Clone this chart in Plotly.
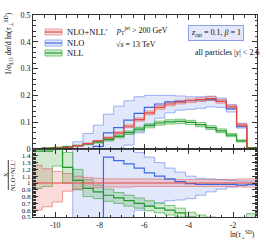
import plotly.graph_objects as go
from plotly.subplots import make_subplots

# bin edges in ln(tau)
edges = [-11.05, -10.59, -10.13, -9.67, -9.21, -8.75, -8.29, -7.83, -7.37, -6.91, -6.45,
         -5.99, -5.53, -5.07, -4.61, -4.14, -3.68, -3.22, -2.76, -2.30, -1.84, -1.38, -0.92]

# top panel
red_c = [0.001, 0.002, 0.003, 0.006, 0.012, 0.020, 0.030, 0.042, 0.060, 0.085, 0.110, 0.135, 0.155, 0.168, 0.175, 0.180, 0.184, 0.188, 0.178, 0.157, 0.089, 0.002]
red_lo = [0.000, 0.001, 0.002, 0.005, 0.011, 0.018, 0.028, 0.039, 0.056, 0.080, 0.104, 0.128, 0.148, 0.161, 0.168, 0.173, 0.177, 0.181, 0.171, 0.150, 0.084, 0.001]
red_hi = [0.002, 0.003, 0.004, 0.007, 0.013, 0.022, 0.032, 0.045, 0.064, 0.090, 0.116, 0.142, 0.162, 0.175, 0.182, 0.187, 0.191, 0.195, 0.185, 0.164, 0.094, 0.003]
blue_c = [0, 0, 0, 0, 0, 0, 0.010, 0.060, 0.080, 0.108, 0.133, 0.155, 0.168, 0.176, 0.178, 0.181, 0.183, 0.184, 0.178, 0.150, 0.083, 0.002]
blue_lo = [0, 0, 0, 0, 0, 0, 0, 0, 0, 0.015, 0.060, 0.090, 0.115, 0.135, 0.145, 0.148, 0.152, 0.157, 0.155, 0.138, 0.078, 0.0]
blue_hi = [0, 0, 0, 0, 0.027, 0.058, 0.089, 0.130, 0.160, 0.180, 0.195, 0.200, 0.200, 0.200, 0.198, 0.195, 0.195, 0.197, 0.190, 0.165, 0.096, 0.003]
green_c = [0.0015, 0.003, 0.005, 0.008, 0.013, 0.019, 0.026, 0.035, 0.047, 0.061, 0.074, 0.087, 0.097, 0.101, 0.103, 0.099, 0.091, 0.080, 0.068, 0.052, 0.030, 0.004]
green_lo = [0.001, 0.002, 0.004, 0.007, 0.011, 0.016, 0.022, 0.030, 0.041, 0.054, 0.067, 0.079, 0.089, 0.093, 0.095, 0.091, 0.083, 0.073, 0.061, 0.046, 0.026, 0.002]
green_hi = [0.002, 0.004, 0.007, 0.010, 0.015, 0.021, 0.029, 0.039, 0.052, 0.067, 0.081, 0.094, 0.104, 0.109, 0.111, 0.107, 0.099, 0.087, 0.075, 0.058, 0.034, 0.006]

# ratio panel (X / NLO+NLL')
r_red_c = [1.0] * 22
r_red_lo = [0.60, 0.65, 0.72, 0.88, 0.91, 0.92, 0.93, 0.94, 0.94, 0.94, 0.95, 0.95, 0.95, 0.95, 0.95, 0.95, 0.95, 0.95, 0.95, 0.95, 0.94, 0.94]
r_red_hi = [1.26, 1.21, 1.17, 1.14, 1.10, 1.08, 1.07, 1.06, 1.06, 1.06, 1.06, 1.06, 1.06, 1.05, 1.05, 1.05, 1.05, 1.05, 1.05, 1.05, 1.06, 1.06]
r_blue_c = [0, 0, 0, 0, 0, 0, 0.30, 1.38, 1.33, 1.28, 1.22, 1.15, 1.10, 1.06, 1.02, 0.99, 0.98, 0.98, 0.98, 0.98, 0.97, 0.98]
r_blue_lo = [0, 0, 0, 0, 0, 0, 0, 0, 0, 0, 0.60, 0.66, 0.71, 0.74, 0.75, 0.77, 0.82, 0.87, 0.91, 0.94, 0.96, 0.97]
r_blue_hi = [0, 0, 0, 0, 3, 3, 3, 3, 3, 3, 1.45, 1.38, 1.30, 1.22, 1.16, 1.10, 1.07, 1.06, 1.05, 1.04, 1.03, 1.03]
r_green_c = [1.47, 1.47, 1.70, 1.23, 1.04, 0.92, 0.87, 0.82, 0.78, 0.74, 0.70, 0.66, 0.63, 0.60, 0.56, 0.50, 0.47, 0.43, 0.38, 0.33, 0.30, 0.45]
r_green_lo = [0.92, 0.95, 1.25, 1.00, 0.90, 0.80, 0.77, 0.73, 0.70, 0.66, 0.63, 0.59, 0.56, 0.53, 0.50, 0.45, 0.42, 0.38, 0.33, 0.30, 0.25, 0.35]
r_green_hi = [2.00, 2.00, 2.00, 1.45, 1.20, 1.05, 0.97, 0.91, 0.86, 0.82, 0.78, 0.74, 0.70, 0.67, 0.63, 0.57, 0.53, 0.50, 0.46, 0.42, 0.40, 0.55]

x_ticks = [-10, -8, -6, -4, -2]
y_top_ticks = [0, 0.1, 0.2, 0.3, 0.4, 0.5]
y_bot_ticks = [0.5, 0.6, 0.7, 0.8, 0.9, 1.0, 1.1, 1.2, 1.3, 1.4]
legend_names = ["NLO+NLL′", "NLO", "NLL"]

RED = "#e5483f"
BLUE = "#3f67e4"
GREEN = "#1f9a2a"
RED_FILL = "rgba(232,110,110,0.25)"
BLUE_FILL = "rgba(125,150,235,0.22)"
GREEN_FILL = "rgba(70,170,70,0.25)"
RED_EDGE = "rgba(220,90,90,0.55)"
BLUE_EDGE = "rgba(110,140,240,0.65)"
GREEN_EDGE = "rgba(60,170,60,0.65)"

FONT = "Liberation Serif"

fig = make_subplots(rows=2, cols=1, shared_xaxes=True, vertical_spacing=0,
                    row_heights=[0.6634, 0.3366])


def step(v):
    return list(v) + [v[-1]]


def band(row, lo, hi, fill, edge):
    fig.add_trace(go.Scatter(x=edges, y=step(lo), mode="lines", line=dict(color=edge, width=1, shape="hv"),
                             showlegend=False, hoverinfo="skip"), row=row, col=1)
    fig.add_trace(go.Scatter(x=edges, y=step(hi), mode="lines", line=dict(color=edge, width=1, shape="hv"),
                             fill="tonexty", fillcolor=fill, showlegend=False, hoverinfo="skip"), row=row, col=1)


def central(row, c, color):
    fig.add_trace(go.Scatter(x=edges, y=step(c), mode="lines", line=dict(color=color, width=1.2, shape="hv"),
                             showlegend=False, hoverinfo="skip"), row=row, col=1)


band(1, blue_lo, blue_hi, BLUE_FILL, BLUE_EDGE)
band(1, green_lo, green_hi, GREEN_FILL, GREEN_EDGE)
band(1, red_lo, red_hi, RED_FILL, RED_EDGE)
central(1, blue_c, BLUE)
central(1, green_c, GREEN)
central(1, red_c, RED)

band(2, r_blue_lo, r_blue_hi, BLUE_FILL, BLUE_EDGE)
band(2, r_green_lo, r_green_hi, GREEN_FILL, GREEN_EDGE)
band(2, r_red_lo, r_red_hi, RED_FILL, RED_EDGE)
central(2, r_blue_c, BLUE)
central(2, r_green_c, GREEN)
central(2, r_red_c, RED)

axis_common = dict(showline=True, linecolor="#333", linewidth=1, mirror="ticks", ticks="inside",
                   tickcolor="#333", showgrid=False, zeroline=False, automargin=False)

fig.update_xaxes(range=[-11.0, -0.92], tickvals=x_ticks, ticktext=["-10", "-8", "-6", "-4", "-2"], ticklen=5,
                 tickfont=dict(family=FONT, size=8, color="#111"),
                 minor=dict(dtick=0.5, tick0=0, ticklen=2.5, ticks="inside", tickcolor="#333"),
                 **axis_common)
fig.update_xaxes(showticklabels=False, row=1, col=1)
fig.update_yaxes(range=[0, 0.5], tickvals=y_top_ticks, ticktext=["0", "0.1", "0.2", "0.3", "0.4", "0.5"],
                 ticklen=5, tickfont=dict(family=FONT, size=8, color="#111"),
                 minor=dict(dtick=0.02, tick0=0, ticklen=2.5, ticks="inside", tickcolor="#333"),
                 row=1, col=1, **axis_common)
fig.update_yaxes(range=[0.5, 1.5], tickvals=y_bot_ticks, ticktext=[str(v) if v != 1.0 else "1" for v in y_bot_ticks],
                 ticklen=5, tickfont=dict(family=FONT, size=7, color="#111"),
                 minor=dict(dtick=0.02, tick0=0, ticklen=2.5, ticks="inside", tickcolor="#333"),
                 row=2, col=1, **axis_common)

W, H = 266, 240
L, R, T, B = 33, 257, 15, 217


def px(x):
    return (x - L) / (R - L)


def py(y):
    return (B - y) / (B - T)


shapes = []
annotations = []
leg = [(32, RED_FILL, RED_EDGE, RED), (43, BLUE_FILL, BLUE_EDGE, BLUE), (53, GREEN_FILL, GREEN_EDGE, GREEN)]
for (yc, fill, edge, col), name in zip(leg, legend_names):
    shapes.append(dict(type="rect", xref="paper", yref="paper", x0=px(45), x1=px(62), y0=py(yc + 3), y1=py(yc - 3),
                       fillcolor=fill, line=dict(color=edge, width=1)))
    shapes.append(dict(type="line", xref="paper", yref="paper", x0=px(45), x1=px(62), y0=py(yc), y1=py(yc),
                       line=dict(color=col, width=1.2)))
    annotations.append(dict(xref="paper", yref="paper", x=px(65), y=py(yc), text=name, showarrow=False,
                            xanchor="left", yanchor="middle", font=dict(family=FONT, size=8.5, color="#111")))

annotations += [
    dict(xref="paper", yref="paper", x=px(114), y=py(31), xanchor="left", yanchor="middle", showarrow=False,
         text="<i>p</i><sub>T</sub><sup>jet</sup> > 200 GeV", font=dict(family=FONT, size=8, color="#111")),
    dict(xref="paper", yref="paper", x=px(114), y=py(44), xanchor="left", yanchor="middle", showarrow=False,
         text="√<i>s</i> = 13 TeV", font=dict(family=FONT, size=8, color="#111")),
    dict(xref="paper", yref="paper", x=px(215.5), y=py(33.5), xanchor="center", yanchor="middle", showarrow=False,
         text="<i>z</i><sub>cut</sub> = 0.1, <i>β</i> = 1", font=dict(family=FONT, size=8, color="#111"),
         bgcolor="rgba(228,232,250,1)", bordercolor="#8aa0e8", borderwidth=1, borderpad=2),
    dict(xref="paper", yref="paper", x=px(261), y=py(52), xanchor="right", yanchor="middle", showarrow=False,
         text="all particles |<i>y</i>| < 2.6", font=dict(family=FONT, size=8, color="#111")),
    dict(xref="paper", yref="paper", x=px(8), y=py(44), xanchor="center", yanchor="middle", showarrow=False,
         textangle=-90, text="1/<i>σ</i><sub>LO</sub> d<i>σ</i>/d ln(<i>τ</i><sub>⊥</sub><sup>SD</sup>)",
         font=dict(family=FONT, size=8, color="#111")),
    dict(xref="paper", yref="paper", x=px(5), y=py(175), xanchor="center", yanchor="middle", showarrow=False,
         textangle=-90, text="X", font=dict(family=FONT, size=6.5, color="#111")),
    dict(xref="paper", yref="paper", x=px(12), y=py(175), xanchor="center", yanchor="middle", showarrow=False,
         textangle=-90, text="NLO+NLL′", font=dict(family=FONT, size=6.5, color="#111")),
    dict(xref="paper", yref="paper", x=px(257), y=py(234.5), xanchor="right", yanchor="middle", showarrow=False,
         text="ln(<i>τ</i><sub>⊥</sub><sup>SD</sup>)", font=dict(family=FONT, size=7.5, color="#111")),
]
shapes.append(dict(type="line", xref="paper", yref="paper", x0=px(8.3), x1=px(8.3), y0=py(160), y1=py(190),
                   line=dict(color="#111", width=0.8)))

fig.update_layout(width=W, height=H, margin=dict(l=L, r=W - R, t=T, b=H - B),
                  paper_bgcolor="white", plot_bgcolor="white", showlegend=False,
                  shapes=shapes, annotations=annotations)

fig.write_html("out.html", config={"displayModeBar": False, "staticPlot": True},
               post_script="document.body.style.margin='0';document.body.style.padding='0';"
                           "document.documentElement.style.overflow='hidden';")
